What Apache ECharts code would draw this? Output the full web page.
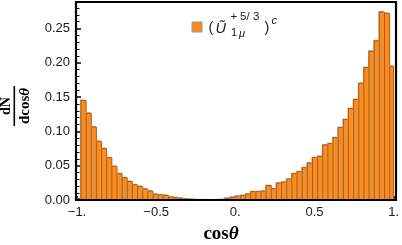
<!DOCTYPE html>
<html><head><meta charset="utf-8">
<script src="https://cdn.jsdelivr.net/npm/echarts@6/dist/echarts.min.js"></script>
<style>html,body{margin:0;padding:0;background:#fff}#c{width:402px;height:245px}</style>
</head><body><div id="c"></div>
<script>
// bin edges of cosθ (63 edges -> 62 bins, the end bins are clipped by the plot range)
const binEdges = [-1, -0.975, -0.9425, -0.91, -0.8775, -0.845, -0.8125, -0.78, -0.7475, -0.715, -0.6825,
  -0.65, -0.6175, -0.585, -0.5525, -0.52, -0.4875, -0.455, -0.4225, -0.39, -0.3575, -0.325, -0.2925,
  -0.26, -0.2275, -0.195, -0.1625, -0.13, -0.0975, -0.065, -0.0325, 0, 0.0325, 0.065, 0.0975, 0.13,
  0.1625, 0.195, 0.2275, 0.26, 0.2925, 0.325, 0.3575, 0.39, 0.4225, 0.455, 0.4875, 0.52, 0.5525, 0.585,
  0.6175, 0.65, 0.6825, 0.715, 0.7475, 0.78, 0.8125, 0.845, 0.8775, 0.91, 0.9425, 0.975, 1];
// dN/dcosθ per bin
const density = [0.002, 0.145, 0.1265, 0.1065, 0.0855, 0.075, 0.0617, 0.049, 0.0385, 0.0325, 0.027,
  0.0222, 0.0197, 0.016, 0.013, 0.0085, 0.0075, 0.0068, 0.0045, 0.0035, 0.0025, 0.0015, 0.001, 0.0005,
  0.0003, 0, 0, 0.0002, 0.0008, 0.0025, 0.004, 0.0055, 0.0066, 0.0085, 0.0122, 0.0122, 0.0128, 0.021,
  0.0164, 0.0246, 0.026, 0.0304, 0.0383, 0.0412, 0.0471, 0.0538, 0.0617, 0.0636, 0.0801, 0.0822, 0.0909,
  0.1056, 0.1173, 0.1333, 0.1465, 0.170, 0.193, 0.2167, 0.232, 0.274, 0.272, 0.195];
const xTickValues = [-1, -0.5, 0, 0.5, 1];
const xTickLabels = ['\u22121.', '\u22120.5', '0.', '0.5', '1.'];
const yTickLabels = ['0.00', '0.05', '0.10', '0.15', '0.20', '0.25'];
const seriesName = '(\u0168 1\u03bc +5/3)^c';

const data = density.map((d, i) => [binEdges[i], binEdges[i + 1], d]);
const chart = echarts.init(document.getElementById('c'), null, {renderer: 'canvas'});
const FILL = '#ff8c1a', EDGE = '#b45a08', SHADOW = '#a8a8a8';
const labelFont = {fontFamily: 'Liberation Sans, Arial, sans-serif', fontSize: 13, color: '#1a1a1a'};

chart.setOption({
  animation: false,
  grid: {left: 77, right: 7.5, top: 2, bottom: 45},
  xAxis: {
    type: 'value', min: -1, max: 1, interval: 0.5,
    axisLine: {show: false, onZero: false},
    axisTick: {show: true, inside: true, length: 4, lineStyle: {color: '#000', width: 1.5}},
    axisLabel: Object.assign({margin: 6, formatter: v => {
      const i = xTickValues.findIndex(t => Math.abs(t - v) < 1e-9);
      return i >= 0 ? xTickLabels[i] : '';
    }}, labelFont),
    splitLine: {show: false}
  },
  yAxis: {
    type: 'value', min: 0, max: 0.2886, interval: 0.05,
    axisLine: {show: false, onZero: false},
    axisTick: {show: true, inside: true, length: 4, lineStyle: {color: '#000', width: 1.5}},
    minorTick: {show: true, splitNumber: 5, length: 2.5, lineStyle: {color: '#000', width: 1}},
    axisLabel: Object.assign({margin: 7, showMaxLabel: false, formatter: v => {
      const i = Math.round(v / 0.05);
      return Math.abs(i * 0.05 - v) < 1e-9 && yTickLabels[i] ? yTickLabels[i] : '';
    }}, labelFont),
    splitLine: {show: false}
  },
  series: [{
    type: 'custom', name: seriesName,
    encode: {x: [0, 1], y: 2},
    data: data,
    renderItem: (params, api) => {
      const v = api.value(2);
      if (!(v > 0)) return null;
      const p0 = api.coord([api.value(0), v]);
      const p1 = api.coord([api.value(1), 0]);
      const w = p1[0] - p0[0], h = p1[1] - p0[1];
      return {type: 'group', children: [
        {type: 'rect', shape: {x: p0[0] - 1, y: p0[1] - 1, width: w, height: h}, style: {fill: SHADOW}},
        {type: 'rect', shape: {x: p0[0], y: p0[1], width: w, height: h},
          style: {fill: FILL, stroke: EDGE, lineWidth: 1}}
      ]};
    }
  }],
  graphic: [
    // frame
    {type: 'rect', z: 100, shape: {x: 76, y: 2, width: 320, height: 198},
      style: {fill: 'none', stroke: '#000', lineWidth: 2.2}},
    // x axis title
    {type: 'text', x: 221, y: 234, style: {
      text: '{a|cos}{b|\u03b8}', align: 'center', verticalAlign: 'middle',
      rich: {
        a: {fontFamily: 'Liberation Serif, Times New Roman, serif', fontWeight: 'bold', fontSize: 19, fill: '#000'},
        b: {fontFamily: 'Liberation Serif, Times New Roman, serif', fontWeight: 'bold', fontStyle: 'italic', fontSize: 19, fill: '#000'}
      }}},
    // y axis title: fraction dN / dcosθ, rotated
    {type: 'group', x: 14.3, y: 106, rotation: Math.PI / 2, children: [
      {type: 'text', x: 0, y: -1, style: {text: 'dN', align: 'center', verticalAlign: 'bottom',
        font: 'bold 14px "Liberation Serif", serif', fill: '#000'}},
      {type: 'line', shape: {x1: -20, y1: 0, x2: 20, y2: 0}, style: {stroke: '#000', lineWidth: 1.6}},
      {type: 'text', x: 0, y: 3, style: {text: '{a|dcos}{b|\u03b8}', align: 'center', verticalAlign: 'top',
        rich: {
          a: {fontFamily: 'Liberation Serif, serif', fontWeight: 'bold', fontSize: 15, fill: '#000'},
          b: {fontFamily: 'Liberation Serif, serif', fontWeight: 'bold', fontStyle: 'italic', fontSize: 15, fill: '#000'}
        }}}
    ]},
    // legend
    {type: 'rect', shape: {x: 192, y: 22, width: 10, height: 10}, style: {fill: FILL, stroke: '#9a9a9a', lineWidth: 1}},
    {type: 'text', x: 208.5, y: 27.5, style: {text: '(', verticalAlign: 'middle', font: '14.5px "Liberation Sans", sans-serif', fill: '#1a1a1a'}},
    {type: 'text', x: 215.5, y: 28.5, style: {text: '\u0168', verticalAlign: 'middle', font: 'italic 14.5px "Liberation Sans", sans-serif', fill: '#1a1a1a'}},
    {type: 'text', x: 230.5, y: 16.5, style: {text: '+', verticalAlign: 'middle', font: '11.5px "Liberation Sans", sans-serif', fill: '#1a1a1a'}},
    {type: 'text', x: 240, y: 16.5, style: {text: '5/', verticalAlign: 'middle', font: '11.5px "Liberation Sans", sans-serif', fill: '#1a1a1a'}},
    {type: 'text', x: 253, y: 16.5, style: {text: '3', verticalAlign: 'middle', font: '11.5px "Liberation Sans", sans-serif', fill: '#1a1a1a'}},
    {type: 'text', x: 231, y: 33, style: {text: '1', verticalAlign: 'middle', font: '11px "Liberation Sans", sans-serif', fill: '#1a1a1a'}},
    {type: 'text', x: 239, y: 33.5, style: {text: '\u03bc', verticalAlign: 'middle', font: 'italic 11px "Liberation Sans", sans-serif', fill: '#1a1a1a'}},
    {type: 'text', x: 264.5, y: 27.5, style: {text: ')', verticalAlign: 'middle', font: '14.5px "Liberation Sans", sans-serif', fill: '#1a1a1a'}},
    {type: 'text', x: 271.5, y: 20.5, style: {text: 'c', verticalAlign: 'middle', font: 'italic 11.5px "Liberation Sans", sans-serif', fill: '#1a1a1a'}}
  ]
});
</script></body></html>
